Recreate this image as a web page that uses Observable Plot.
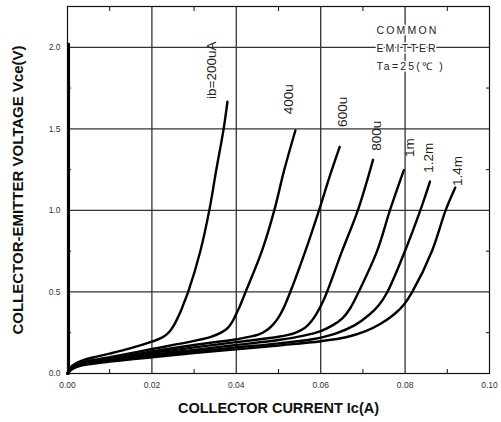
<!DOCTYPE html>
<html>
<head>
<meta charset="utf-8">
<script src="https://cdn.jsdelivr.net/npm/d3@7"></script>
<script src="https://cdn.jsdelivr.net/npm/@observablehq/plot@0.6"></script>
<style>
  html, body { margin: 0; padding: 0; background: white; }
</style>
</head>
<body>
<div id="chart"></div>
<script>
// Base-current labels for each curve
const ibNames = ["ib=200uA", "400u", "600u", "800u", "1m", "1.2m", "1.4m"];

// [Ic (A), Vce (V)]
const ib200 = [[0,0],[0.001,0.045],[0.003,0.075],[0.006,0.098],[0.01,0.122],[0.015,0.155],[0.02,0.195],[0.022,0.215],[0.0233,0.235],[0.0243,0.26],[0.0252,0.295],[0.026,0.335],[0.0268,0.38],[0.0277,0.44],[0.0286,0.5],[0.0315,0.753],[0.0336,1.0],[0.0352,1.24],[0.037,1.5],[0.0379,1.666]];
const ib400 = [[0,0],[0.001,0.035],[0.003,0.065],[0.01,0.1],[0.02,0.15],[0.03,0.2],[0.034,0.225],[0.0365,0.252],[0.038,0.28],[0.039,0.315],[0.0398,0.355],[0.0408,0.41],[0.0422,0.5],[0.0461,0.753],[0.049,1.0],[0.0513,1.242],[0.054,1.49]];
const ib600 = [[0,0],[0.001,0.03],[0.003,0.058],[0.01,0.09],[0.02,0.135],[0.03,0.175],[0.04,0.21],[0.0452,0.238],[0.0472,0.265],[0.0487,0.3],[0.0499,0.34],[0.051,0.39],[0.0528,0.5],[0.0564,0.753],[0.0596,1.0],[0.0623,1.222],[0.0645,1.39]];
const ib800 = [[0,0],[0.001,0.029],[0.003,0.055],[0.01,0.085],[0.02,0.125],[0.03,0.16],[0.04,0.192],[0.05,0.225],[0.0538,0.248],[0.0563,0.28],[0.0578,0.32],[0.0591,0.37],[0.0607,0.45],[0.0618,0.52],[0.0651,0.753],[0.0688,1.0],[0.0724,1.31]];
const ib1000 = [[0,0],[0.001,0.028],[0.003,0.052],[0.01,0.08],[0.02,0.115],[0.03,0.145],[0.04,0.175],[0.05,0.205],[0.056,0.232],[0.06,0.26],[0.0628,0.295],[0.0652,0.34],[0.067,0.4],[0.069,0.5],[0.0734,0.753],[0.0764,1.0],[0.0797,1.247]];
const ib1200 = [[0,0],[0.001,0.027],[0.003,0.05],[0.01,0.077],[0.02,0.108],[0.03,0.135],[0.04,0.16],[0.05,0.185],[0.058,0.21],[0.0635,0.245],[0.068,0.295],[0.0715,0.36],[0.0738,0.42],[0.0758,0.5],[0.08,0.753],[0.0836,1.0],[0.0859,1.177]];
const ib1400 = [[0,0],[0.001,0.025],[0.003,0.047],[0.01,0.073],[0.02,0.1],[0.03,0.125],[0.04,0.148],[0.05,0.172],[0.06,0.198],[0.066,0.222],[0.0705,0.258],[0.0742,0.305],[0.0775,0.365],[0.0798,0.425],[0.0817,0.5],[0.0864,0.753],[0.0896,1.0],[0.0919,1.14]];
const seriesList = [ib200, ib400, ib600, ib800, ib1000, ib1200, ib1400];

// vertical trace at Ic ~ 0
const zeroTrace = [[0.0003,0],[0.0003,2.02]];

// label anchors (data units) for the curve names
const labelIc  = [0.0341, 0.0524, 0.0652, 0.0732, 0.0810, 0.0856, 0.0925];
const labelVce = [1.683, 1.589, 1.512, 1.365, 1.328, 1.230, 1.150];

// condition note
const noteLines = ["COMMON", "EMITTER", "Ta=25(℃ )"];
const noteIc = [0.0732];
const noteVce = [2.007];

// axes
const xTicks = [0, 0.02, 0.04, 0.06, 0.08, 0.10];
const yTicks = [0, 0.5, 1.0, 1.5, 2.0];
const xMinor = [0.01, 0.03, 0.05, 0.07, 0.09];
const yMinor = [0.25, 0.75, 1.25, 1.75];
const xTitle = "COLLECTOR CURRENT Ic(A)";
const yTitle = "COLLECTOR-EMITTER VOLTAGE Vce(V)";

const rows = seriesList.flatMap((s, i) => s.map(([ic, vce]) => ({ib: ibNames[i], ic, vce})));
const labels = ibNames.map((t, i) => ({t, x: labelIc[i], y: labelVce[i]}));
const note = [{t: noteLines.join("\n"), x: noteIc[0], y: noteVce[0]}];

const chart = Plot.plot({
  width: 501,
  height: 422,
  marginLeft: 67,
  marginRight: 12,
  marginTop: 6,
  marginBottom: 49,
  style: {background: "white", fontFamily: "'Liberation Sans', Arial, sans-serif", color: "#111"},
  x: {domain: [0, 0.1]},
  y: {domain: [0, 2.25]},
  marks: [
    Plot.gridX([0.02, 0.04, 0.06, 0.08], {stroke: "#333", strokeOpacity: 1, strokeWidth: 1.3}),
    Plot.gridY([0.5, 1.0, 1.5, 2.0], {stroke: "#333", strokeOpacity: 1, strokeWidth: 1.3}),
    Plot.axisX(xTicks, {tickSize: 0, tickPadding: 8, tickFormat: d3.format(".2f"), label: null, fontSize: 8.5, fill: "#333"}),
    Plot.axisY(yTicks, {tickSize: 0, tickPadding: 7, tickFormat: d3.format(".1f"), label: null, fontSize: 8.5, fill: "#333"}),
    Plot.axisX(xMinor, {anchor: "bottom", tickSize: -4, text: null, label: null}),
    Plot.axisX(xMinor, {anchor: "top", tickSize: -4, text: null, label: null}),
    Plot.axisY(yMinor, {anchor: "left", tickSize: -4, text: null, label: null}),
    Plot.axisY(yMinor, {anchor: "right", tickSize: -4, text: null, label: null}),
    Plot.frame({stroke: "#111", strokeWidth: 1.2}),
    Plot.line(zeroTrace, {x: d => d[0], y: d => d[1], stroke: "black", strokeWidth: 2.6}),
    Plot.line(rows, {x: "ic", y: "vce", z: "ib", stroke: "black", strokeWidth: 2.4, curve: "catmull-rom"}),
    Plot.text(labels, {x: "x", y: "y", text: "t", rotate: -90, textAnchor: "start", fontSize: 13.5, fill: "#222"}),
    Plot.text(note, {x: "x", y: "y", text: "t", textAnchor: "start", lineHeight: 1.7, fontSize: 10.5, fill: "#222", stroke: "white", strokeWidth: 3}),
    Plot.text([xTitle], {frameAnchor: "bottom", dy: 35, lineAnchor: "middle", textAnchor: "middle", fontWeight: "bold", fontSize: 14.5, fill: "#111"}),
    Plot.text([yTitle], {frameAnchor: "left", dx: -49, rotate: -90, textAnchor: "middle", lineAnchor: "middle", fontWeight: "bold", fontSize: 15, fill: "#111"})
  ]
});

d3.select(chart).selectAll("text").filter(function() {
  return this.textContent.includes("COMMON");
}).attr("letter-spacing", "2.2px");

document.getElementById("chart").appendChild(chart);
</script>
</body>
</html>
